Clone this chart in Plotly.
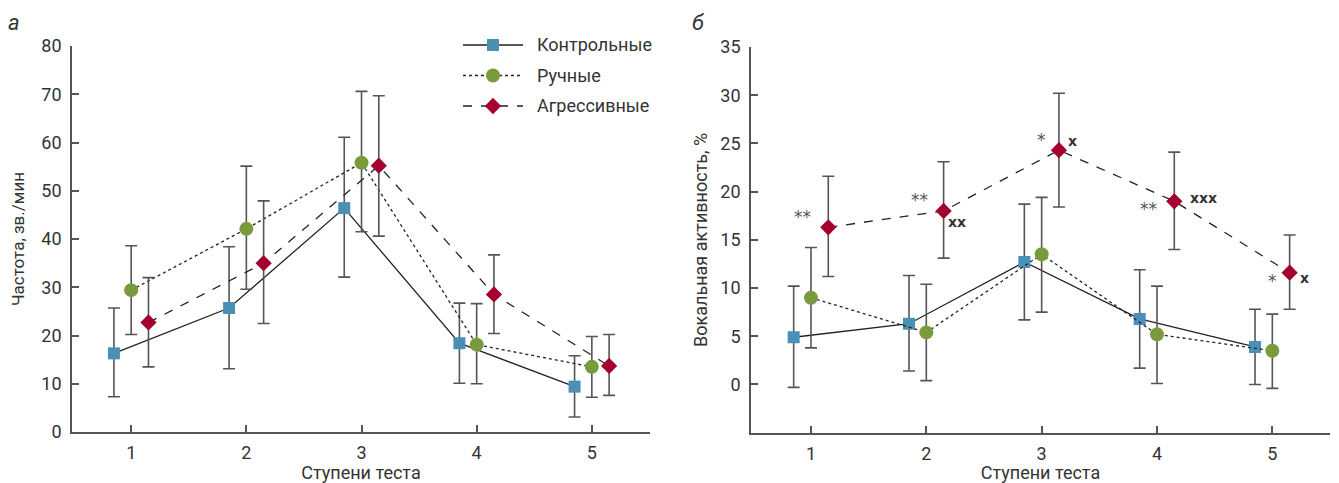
import plotly.graph_objects as go

stages = [1, 2, 3, 4, 5]
groups = ["Контрольные", "Ручные", "Агрессивные"]
offsets = [-0.15, 0.0, 0.15]

# Panel a: frequency, calls/min
freq_mean = {
    "Контрольные": [16.3, 25.7, 46.4, 18.4, 9.4],
    "Ручные": [29.4, 42.1, 55.8, 18.1, 13.5],
    "Агрессивные": [22.7, 35.0, 55.2, 28.5, 13.7],
}
freq_hi = {
    "Контрольные": [25.7, 38.4, 61.1, 26.7, 15.8],
    "Ручные": [38.6, 55.1, 70.6, 26.6, 19.8],
    "Агрессивные": [32.0, 47.9, 69.7, 36.7, 20.2],
}
freq_lo = {
    "Контрольные": [7.3, 13.1, 32.1, 10.1, 3.1],
    "Ручные": [20.2, 29.6, 41.5, 10.0, 7.2],
    "Агрессивные": [13.5, 22.5, 40.6, 20.4, 7.6],
}

# Panel b: vocal activity, %
voc_mean = {
    "Контрольные": [4.9, 6.3, 12.7, 6.8, 3.9],
    "Ручные": [9.0, 5.4, 13.5, 5.2, 3.5],
    "Агрессивные": [16.3, 18.0, 24.3, 19.0, 11.6],
}
voc_hi = {
    "Контрольные": [10.2, 11.3, 18.7, 11.9, 7.8],
    "Ручные": [14.2, 10.4, 19.4, 10.2, 7.3],
    "Агрессивные": [21.6, 23.1, 30.2, 24.1, 15.5],
}
voc_lo = {
    "Контрольные": [-0.3, 1.4, 6.7, 1.7, 0.0],
    "Ручные": [3.8, 0.4, 7.5, 0.1, -0.4],
    "Агрессивные": [11.2, 13.1, 18.4, 14.0, 7.8],
}

# significance marks on panel b
sig_text = ["**", "**", "xx", "*", "x", "**", "xxx", "*", "x"]
sig_x = [0.93, 1.945, 2.27, 3.0, 3.27, 3.93, 4.40, 5.0, 5.28]
sig_y = [17.4, 19.1, 16.9, 25.4, 25.3, 18.2, 19.3, 10.7, 11.0]
sig_bold = [False, False, True, False, True, False, True, False, True]

# legend rows (drawn on a small helper axis)
legend_rows = [3, 2, 1]

colors = {"Контрольные": "#4a8fb5", "Ручные": "#7a9b3c", "Агрессивные": "#a3002f"}
symbols = {"Контрольные": "square", "Ручные": "circle", "Агрессивные": "diamond"}
msizes = {"Контрольные": 12, "Ручные": 14, "Агрессивные": 12.5}
dashes = {"Контрольные": "solid", "Ручные": "dot", "Агрессивные": "dash"}

FONT = "Roboto, Open Sans, sans-serif"
AX = "#555555"

# page body has an 8px margin: figure is offset by 8px from window corner
W, H = 1331, 475

fig = go.Figure()

def add_panel(mean, hi, lo, xa, ya):
    for g, off in zip(groups, offsets):
        xs = [s + off for s in stages]
        m = mean[g]
        fig.add_trace(go.Scatter(
            x=xs, y=m, name=g, mode="lines+markers",
            xaxis=xa, yaxis=ya, showlegend=False,
            line=dict(color="#222222", width=1.3, dash=dashes[g]),
            marker=dict(symbol=symbols[g], size=msizes[g], color=colors[g],
                        line=dict(width=0)),
            error_y=dict(type="data", symmetric=False,
                         array=[h - v for h, v in zip(hi[g], m)],
                         arrayminus=[v - l for v, l in zip(m, lo[g])],
                         color=AX, thickness=1.6, width=6),
        ))

add_panel(freq_mean, freq_hi, freq_lo, "x", "y")
add_panel(voc_mean, voc_hi, voc_lo, "x2", "y2")

# custom legend: line segment with centred marker + label
for g, r in zip(groups, legend_rows):
    fig.add_trace(go.Scatter(
        x=[0, 1], y=[r, r], mode="lines", xaxis="x3", yaxis="y3",
        showlegend=False, hoverinfo="skip",
        line=dict(color="#222222", width=1.3, dash=dashes[g]),
    ))
    fig.add_trace(go.Scatter(
        x=[0.5], y=[r], mode="markers", xaxis="x3", yaxis="y3",
        showlegend=False, hoverinfo="skip",
        marker=dict(symbol=symbols[g], size=msizes[g], color=colors[g],
                    line=dict(width=0)),
    ))
    fig.add_annotation(x=1.2, y=r, xref="x3", yref="y3", text=g,
                       showarrow=False, xanchor="left", yanchor="middle",
                       font=dict(family=FONT, size=18, color="#333333"))

for t, x, y, b in zip(sig_text, sig_x, sig_y, sig_bold):
    fig.add_annotation(
        x=x, y=y, xref="x2", yref="y2", text=f"<b>{t}</b>" if b else t,
        showarrow=False,
        font=dict(family="DejaVu Sans, sans-serif", size=14 if b else 17,
                  color="#333333" if b else "#555555"),
    )

axis_common = dict(
    showline=True, linecolor=AX, linewidth=1.6, ticks="inside", ticklen=7,
    tickwidth=1.6, tickcolor=AX, showgrid=False, zeroline=False,
    tickfont=dict(family=FONT, size=18, color="#333333"),
)

def px_x(p):
    return (p - 8) / W

def px_y(p):
    return 1 - (p - 8) / H

fig.update_layout(
    width=W, height=H,
    plot_bgcolor="white", paper_bgcolor="white",
    margin=dict(l=0, r=0, t=0, b=0),
    font=dict(family=FONT, color="#333333"),
    showlegend=False,
    xaxis=dict(domain=[px_x(72), px_x(650)], range=[0.486, 5.505],
               tickvals=stages, ticklabelstandoff=4, automargin=False,
               title=dict(text="Ступени теста", font=dict(size=18), standoff=3),
               **axis_common),
    yaxis=dict(domain=[px_y(432), px_y(46)], range=[0, 80],
               tickvals=list(range(0, 81, 10)), ticklabelstandoff=5, automargin=False,
               title=dict(text="Частота, зв./мин", font=dict(size=17), standoff=13),
               **axis_common),
    xaxis2=dict(domain=[px_x(751), px_x(1330)], range=[0.48, 5.5],
                tickvals=stages, anchor="y2", ticklabelstandoff=4, automargin=False,
                title=dict(text="Ступени теста", font=dict(size=18), standoff=3),
                **axis_common),
    yaxis2=dict(domain=[px_y(432.7), px_y(47)], range=[-5, 35],
                tickvals=list(range(0, 36, 5)), anchor="x2",
                ticklabelstandoff=5, automargin=False,
                title=dict(text="Вокальная активность, %", font=dict(size=18), standoff=8),
                **axis_common),
    xaxis3=dict(domain=[px_x(463), px_x(673)], range=[0, 3.5], visible=False,
                anchor="y3", fixedrange=True),
    yaxis3=dict(domain=[px_y(121.25), px_y(29.75)], range=[0.5, 3.5], visible=False,
                anchor="x3", fixedrange=True),
)

fig.add_annotation(x=px_x(6), y=px_y(22), xref="paper", yref="paper", text="<i>а</i>",
                   showarrow=False, xanchor="left", yanchor="middle",
                   font=dict(family=FONT, size=22, color="#333333"))
fig.add_annotation(x=px_x(690), y=px_y(22), xref="paper", yref="paper", text="<i>б</i>",
                   showarrow=False, xanchor="left", yanchor="middle",
                   font=dict(family=FONT, size=22, color="#333333"))

fig.write_html("out.html")
